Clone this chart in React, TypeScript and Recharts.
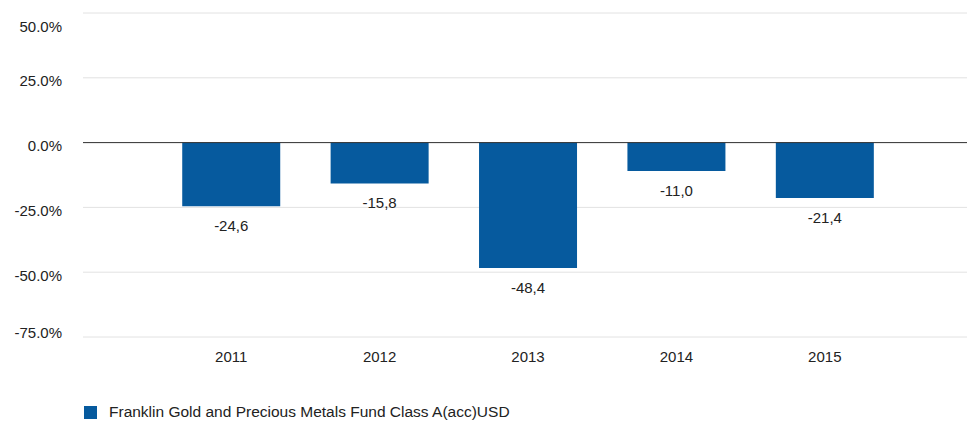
import React from 'react';
import { BarChart, Bar, XAxis, YAxis, CartesianGrid, ReferenceLine, Legend, LabelList } from 'recharts';

const years = ['2011', '2012', '2013', '2014', '2015'];
const fundReturns = [-24.6, -15.8, -48.4, -11.0, -21.4];
const yTicks = [50, 25, 0, -25, -50, -75];
const seriesName = 'Franklin Gold and Precious Metals Fund Class A(acc)USD';

const data = years.map((year, i) => ({ year, value: fundReturns[i] }));

const BLUE = '#065a9e';
const FONT = '"Liberation Sans", Arial, sans-serif';

// y labels sit a bit below their gridline; the outermost ones are pulled inside the plot
const YTick = (props: any) => {
  const { x, y, payload } = props;
  const ty = Math.min(Math.max(y + 3, 26), 332);
  return (
    <text x={x} y={ty} textAnchor="end" dominantBaseline="central" fill="#222" fontSize={15} fontFamily={FONT}>
      {payload.value.toFixed(1)}%
    </text>
  );
};

const ValueLabel = (props: any) => {
  const { x, y, width, height, value } = props;
  const bottom = Math.max(y, y + height);
  return (
    <text x={x + width / 2} y={bottom + 19} textAnchor="middle" dominantBaseline="central" fill="#222" fontSize={15} fontFamily={FONT}>
      {Number(value).toFixed(1).replace('.', ',')}
    </text>
  );
};

export default function App() {
  return (
    <div style={{ position: 'absolute', left: 0, top: 0, width: 967, height: 421, background: '#fff' }}>
      <BarChart
        width={967}
        height={421}
        data={data}
        margin={{ top: 13, right: 0, bottom: 16, left: 0 }}
        barCategoryGap="17%"
      >
        <CartesianGrid vertical={false} stroke="#e2e2e2" strokeWidth={1} />
        <XAxis
          dataKey="year"
          axisLine={false}
          tickLine={false}
          tickMargin={8}
          height={50}
          padding={{ left: 74, right: 68 }}
          tick={{ fill: '#222', fontSize: 15, fontFamily: FONT }}
        />
        <YAxis
          domain={[-75, 50]}
          ticks={yTicks}
          axisLine={false}
          tickLine={false}
          width={83}
          tickMargin={15}
          tick={<YTick />}
        />
        <ReferenceLine y={0} stroke="#333" strokeWidth={1} />
        <Legend
          verticalAlign="bottom"
          align="left"
          iconType="square"
          iconSize={13}
          wrapperStyle={{ left: 84, bottom: 0, fontFamily: FONT, fontSize: 15.5 }}
          formatter={(v: string) => <span style={{ color: '#222', marginLeft: 8 }}>{v}</span>}
        />
        <Bar dataKey="value" name={seriesName} fill={BLUE} isAnimationActive={false}>
          <LabelList dataKey="value" content={<ValueLabel />} />
        </Bar>
      </BarChart>
    </div>
  );
}
